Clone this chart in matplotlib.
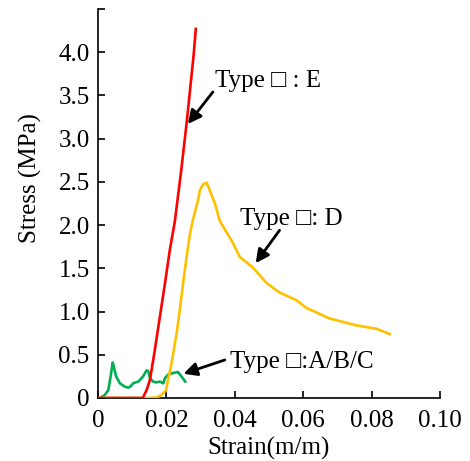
import matplotlib
matplotlib.use("Agg")
import matplotlib.pyplot as plt

plt.rcParams['font.family'] = ['Liberation Serif', 'DejaVu Serif']

# Type E (red)
red_x = [0.0, 0.0131, 0.0142, 0.0152, 0.0166, 0.0181, 0.0196, 0.0210, 0.0225, 0.0243, 0.0260, 0.0280, 0.0286]
red_y = [0.0, 0.0, 0.09, 0.21, 0.55, 0.94, 1.33, 1.71, 2.05, 2.62, 3.21, 3.98, 4.27]

# Type D (yellow)
yel_x = [0.0, 0.0146, 0.0170, 0.0186, 0.0199, 0.0205, 0.0215, 0.0230, 0.0239, 0.0249, 0.0259,
         0.0269, 0.0277, 0.0292, 0.0298, 0.0307, 0.0318, 0.0324, 0.0333, 0.0342, 0.0356,
         0.0377, 0.0391, 0.0415, 0.0453, 0.0493, 0.0531, 0.0581, 0.0610, 0.0639, 0.0677,
         0.0756, 0.0815, 0.0853]
yel_y = [0.0, 0.0, 0.005, 0.035, 0.09, 0.21, 0.40, 0.75, 1.01, 1.33, 1.63,
         1.90, 2.05, 2.28, 2.40, 2.47, 2.49, 2.43, 2.34, 2.25, 2.05,
         1.91, 1.82, 1.63, 1.51, 1.33, 1.22, 1.13, 1.04, 0.99, 0.92,
         0.84, 0.80, 0.74]

# Type A/B/C (green)
grn_x = [0.0006, 0.0020, 0.0030, 0.0037, 0.0043, 0.0047, 0.0053, 0.0064, 0.0079, 0.0088,
         0.0094, 0.0103, 0.0118, 0.0132, 0.0142, 0.0147, 0.0152, 0.0161, 0.0171,
         0.0181, 0.0191, 0.0196, 0.0205, 0.0220, 0.0234, 0.0244, 0.0255]
grn_y = [0.0, 0.035, 0.09, 0.25, 0.41, 0.35, 0.25, 0.17, 0.13, 0.12,
         0.13, 0.17, 0.19, 0.25, 0.32, 0.31, 0.23, 0.19, 0.18,
         0.19, 0.17, 0.23, 0.27, 0.29, 0.30, 0.25, 0.19]

xticks = [0, 0.02, 0.04, 0.06, 0.08, 0.10]
xticklabels = ["0", "0.02", "0.04", "0.06", "0.08", "0.10"]
yticks = [0, 0.5, 1.0, 1.5, 2.0, 2.5, 3.0, 3.5, 4.0, 4.5]
yticklabels = ["0", "0.5", "1.0", "1.5", "2.0", "2.5", "3.0", "3.5", "4.0", ""]

fig = plt.figure(figsize=(4.70, 4.61), dpi=100)
ax = fig.add_axes([0.2085, 0.1367, 0.7275, 0.8438])

lw = 1.9
ax.plot(grn_x, grn_y, color="#00b050", lw=lw, zorder=2)
ax.plot(yel_x, yel_y, color="#ffc000", lw=lw, zorder=3)
ax.plot(red_x, red_y, color="#ff0000", lw=lw, zorder=4)

ax.set_xlim(0, 0.10)
ax.set_ylim(0, 4.5)
ax.set_xticks(xticks)
ax.set_xticklabels(xticklabels)
ax.set_yticks(yticks)
ax.set_yticklabels(yticklabels)
ax.tick_params(direction="in", labelsize=18, length=5, width=1.2)
ax.tick_params(axis="x", pad=9)
ax.tick_params(axis="y", pad=6)
for s in ["top", "right"]:
    ax.spines[s].set_visible(False)
for s in ["left", "bottom"]:
    ax.spines[s].set_linewidth(1.2)

ax.set_xlabel("Strain(m/m)", fontsize=18, labelpad=3)
ax.set_ylabel("Stress (MPa)", fontsize=18)
ax.yaxis.set_label_coords(-0.164, 0.566)

arrow = dict(arrowstyle="-|>", color="black", lw=2, mutation_scale=20, shrinkA=0, shrinkB=0)
ax.annotate("", xy=(0.0263, 3.17), xytext=(0.0336, 3.54), arrowprops=arrow)
ax.text(0.0342, 3.67, "Type \u25a1 : E", fontsize=18, va="center", ha="left")

ax.annotate("", xy=(0.0461, 1.56), xytext=(0.0531, 1.94), arrowprops=arrow)
ax.text(0.0415, 2.07, "Type \u25a1: D", fontsize=18, va="center", ha="left")

ax.annotate("", xy=(0.0250, 0.28), xytext=(0.0371, 0.44), arrowprops=arrow)
ax.text(0.0385, 0.42, "Type \u25a1:A/B/C", fontsize=18, va="center", ha="left")

fig.savefig("out.png", dpi=100)
